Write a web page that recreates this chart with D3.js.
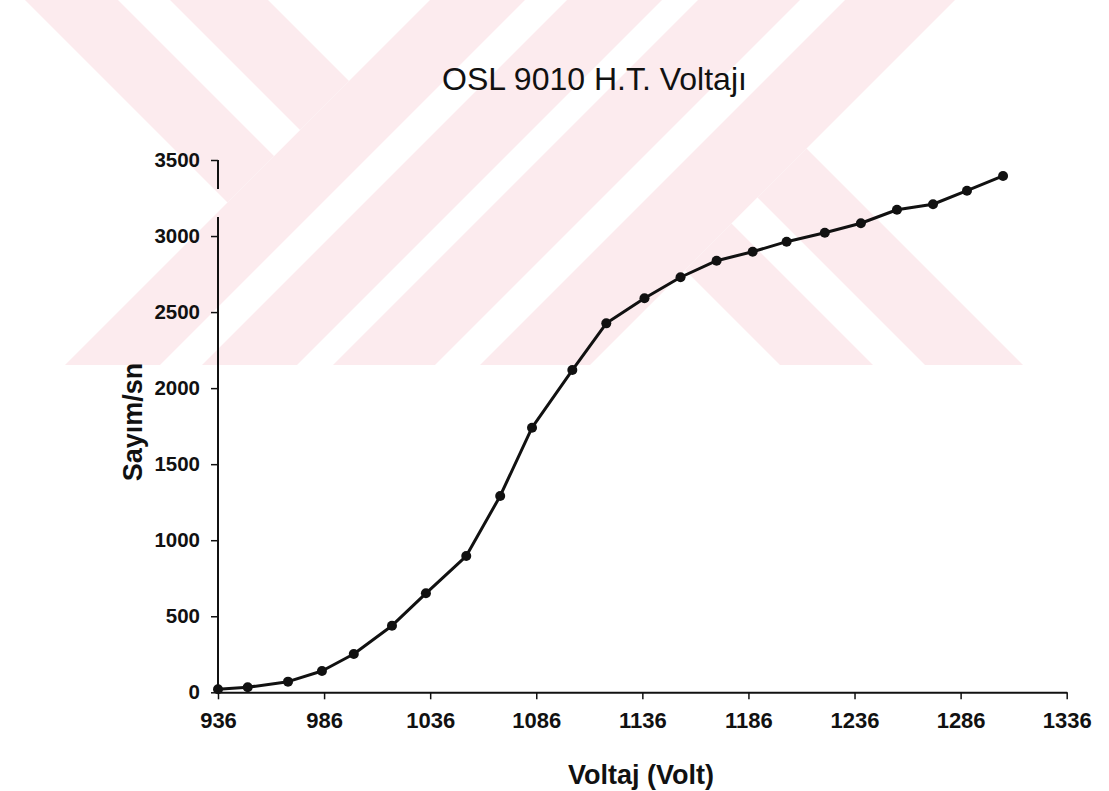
<!DOCTYPE html>
<html>
<head>
<meta charset="utf-8">
<script src="https://cdn.jsdelivr.net/npm/d3@7"></script>
<style>
  body { margin: 0; background: #fff; }
  svg { display: block; font-family: "Liberation Sans", Arial, sans-serif; }
</style>
</head>
<body>
<svg id="chart" width="1109" height="791"></svg>
<script>
var voltaj = [936, 950, 969, 985, 1000, 1018, 1034, 1053, 1069, 1084, 1103, 1119,
              1137, 1154, 1171, 1188, 1204, 1222, 1239, 1256, 1273, 1289, 1306];
var sayim = [20, 33, 70, 140, 252, 438, 651, 896, 1291, 1740, 2119, 2426,
             2591, 2729, 2838, 2897, 2963, 3022, 3084, 3173, 3209, 3298, 3395];

var xTicks = [936, 986, 1036, 1086, 1136, 1186, 1236, 1286, 1336];
var yTicks = [0, 500, 1000, 1500, 2000, 2500, 3000, 3500];

var baslik = "OSL 9010 H.T. Voltajı",
    xBaslik = "Voltaj (Volt)",
    yBaslik = "Sayım/sn";

var svg = d3.select("#chart"),
    width = +svg.attr("width"),
    height = +svg.attr("height");

svg.append("rect").attr("width", width).attr("height", height).attr("fill", "#fff");

// --- background watermark (pale stripes of the scan) ---
// "/" bands are x+y = const, "\" bands are x-y = const
var wmBottom = 365;
var wm = svg.append("g").attr("class", "watermark");
function slashBand(a, b) {
  return [[a, 0], [b, 0], [b - wmBottom, wmBottom], [a - wmBottom, wmBottom]];
}
// "\" band between x-y=a..b, only right/below of x+y=u
function legBelow(a, b, u) {
  return [[(u + b) / 2, (u - b) / 2], [b + wmBottom, wmBottom], [a + wmBottom, wmBottom], [(u + a) / 2, (u - a) / 2]];
}
// "\" band between x-y=a..b, only left/above of x+y=u
function legAbove(a, b, u) {
  return [[a, 0], [b, 0], [(u + b) / 2, (u - b) / 2], [(u + a) / 2, (u - a) / 2]];
}
var pink = "#fcebee";
var wmShapes = [
  {pts: slashBand(698, 955), fill: pink},
  {pts: legBelow(415, 658, 955), fill: pink},
  {pts: slashBand(430, 662), fill: pink},
  {pts: legAbove(25, 268, 430), fill: pink},
  {pts: slashBand(800, 845), fill: "#fff"},
  {pts: slashBand(525, 567), fill: "#fff"},
  {pts: legBelow(508, 560, 955), fill: "#fff"},
  {pts: legAbove(118, 170, 430), fill: "#fff"}
];
wm.selectAll("polygon").data(wmShapes).join("polygon")
  .attr("points", function(d) { return d.pts.map(function(p) { return p.join(","); }).join(" "); })
  .attr("fill", function(d) { return d.fill; });

// --- scales ---
var x = d3.scaleLinear().domain([936, 1336]).range([218, 1066.7]);
var y = d3.scaleLinear().domain([0, 3500]).range([692.3, 160]);

// x axis
var xAxis = svg.append("g")
  .attr("transform", "translate(0," + y(0) + ")")
  .call(d3.axisBottom(x).tickValues(xTicks).tickFormat(d3.format("d"))
    .tickSize(7).tickSizeOuter(0).tickPadding(13));
xAxis.select(".domain").attr("stroke", "#111").attr("stroke-width", 2);
xAxis.selectAll(".tick line").attr("stroke", "#111").attr("stroke-width", 1.5);
xAxis.selectAll(".tick text").attr("fill", "#111").attr("font-size", 22)
  .attr("font-weight", "bold")
  .attr("font-family", "Liberation Sans, Arial, sans-serif");

// y axis
var yAxis = svg.append("g")
  .attr("transform", "translate(" + x(936) + ",0)")
  .call(d3.axisLeft(y).tickValues(yTicks).tickFormat(d3.format("d"))
    .tickSize(7).tickSizeOuter(0).tickPadding(11));
yAxis.select(".domain").remove();
yAxis.selectAll(".tick line").attr("stroke", "#111").attr("stroke-width", 1.5);
yAxis.selectAll(".tick text").attr("fill", "#111").attr("font-size", 20.5)
  .attr("font-weight", "bold")
  .attr("font-family", "Liberation Sans, Arial, sans-serif");
// axis line has a small break in the scan near the top
[[0, 3125], [3310, 3500]].forEach(function(seg) {
  yAxis.append("line")
    .attr("x1", 0).attr("x2", 0)
    .attr("y1", y(seg[0])).attr("y2", y(seg[1]))
    .attr("stroke", "#111").attr("stroke-width", 2);
});

// data line + markers
var pts = voltaj.map(function(v, i) { return {v: v, s: sayim[i]}; });
var line = d3.line().x(function(d) { return x(d.v); }).y(function(d) { return y(d.s); });

svg.append("path").datum(pts)
  .attr("d", line)
  .attr("fill", "none")
  .attr("stroke", "#111")
  .attr("stroke-width", 3)
  .attr("stroke-linejoin", "round");

svg.selectAll("circle.pt").data(pts).join("circle")
  .attr("class", "pt")
  .attr("cx", function(d) { return x(d.v); })
  .attr("cy", function(d) { return y(d.s); })
  .attr("r", 5)
  .attr("fill", "#111");

// titles
svg.append("text")
  .attr("x", 594.5).attr("y", 90)
  .attr("text-anchor", "middle")
  .attr("font-size", 32)
  .attr("fill", "#111")
  .text(baslik);

svg.append("text")
  .attr("x", 641).attr("y", 784)
  .attr("text-anchor", "middle")
  .attr("font-size", 27)
  .attr("font-weight", "bold")
  .attr("fill", "#111")
  .text(xBaslik);

svg.append("text")
  .attr("transform", "translate(142,422) rotate(-90)")
  .attr("text-anchor", "middle")
  .attr("font-size", 27)
  .attr("font-weight", "bold")
  .attr("fill", "#111")
  .text(yBaslik);
</script>
</body>
</html>
